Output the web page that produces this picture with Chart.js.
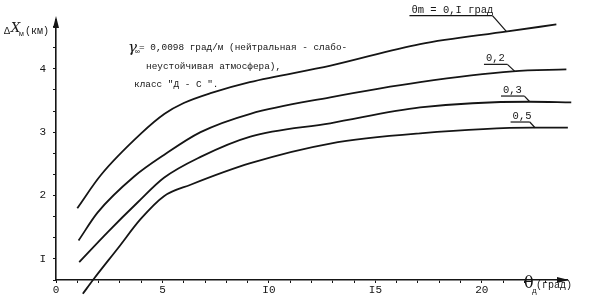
<!DOCTYPE html>
<html>
<head>
<meta charset="utf-8">
<script src="https://cdn.jsdelivr.net/npm/chart.js@4"></script>
<style>
  html, body { margin: 0; padding: 0; background: #fff; }
  #wrap { width: 600px; height: 300px; }
</style>
</head>
<body>
<div id="wrap"><canvas id="rangeChart"></canvas></div>
<script>
// curves: ΔX (км) against θд (град), one per θm
const x01 = [1.0, 2.1, 4.0, 5.1, 6.0, 7.3, 9.1, 12.9, 17.1, 21.2, 23.5];
const y01 = [1.80, 2.32, 2.98, 3.29, 3.46, 3.62, 3.79, 4.05, 4.39, 4.59, 4.70];
const x02 = [1.06, 1.95, 3.67, 5.07, 6.79, 9.13, 12.88, 17.1, 21.45, 23.97];
const y02 = [1.29, 1.73, 2.30, 2.64, 3.00, 3.29, 3.55, 3.79, 3.96, 3.99];
const x03 = [1.09, 2.42, 3.83, 5.07, 6.79, 9.13, 12.88, 17.1, 22.25, 24.2];
const y03 = [0.95, 1.42, 1.89, 2.28, 2.61, 2.93, 3.14, 3.39, 3.48, 3.47];
const x05 = [1.26, 1.79, 2.89, 3.98, 5.07, 6.32, 9.13, 12.88, 17.1, 22.39, 24.04];
const y05 = [0.45, 0.69, 1.16, 1.63, 1.99, 2.17, 2.51, 2.82, 2.98, 3.07, 3.07];
const curveNames = ['0,I', '0,2', '0,3', '0,5'];

// tick labels (typewriter "I" for one)
const xTickValues = [0, 5, 10, 15, 20];
const xTickLabels = ['0', '5', 'I0', 'I5', '20'];
const yTickValues = [1, 2, 3, 4];
const yTickLabels = ['I', '2', '3', '4'];

const MONO = '"Liberation Mono", "DejaVu Sans Mono", monospace';
const INK = '#151515';

function pts(xs, ys) {
    return xs.map((x, i) => ({ x: x, y: ys[i] }));
}

const curveData = [pts(x01, y01), pts(x02, y02), pts(x03, y03), pts(x05, y05)];

// little helpers for the typed notes
function underlined(ctx, text, x0, x1, y) {
    ctx.fillText(text, x0 + 2, y - 3);
    ctx.beginPath();
    ctx.moveTo(x0, y);
    ctx.lineTo(x1, y);
    ctx.stroke();
}

const notesPlugin = {
    id: 'notes',
    afterDraw(chart) {
        const ctx = chart.ctx;
        const xs = chart.scales.x, ys = chart.scales.y;
        const X = v => xs.getPixelForValue(v), Y = v => ys.getPixelForValue(v);
        ctx.save();
        ctx.fillStyle = INK;
        ctx.strokeStyle = INK;
        ctx.lineWidth = 1.2;

        // arrows on axes
        const left = chart.chartArea.left, top = chart.chartArea.top;
        const right = chart.chartArea.right, bottom = chart.chartArea.bottom;
        ctx.beginPath();
        ctx.moveTo(left, top - 4);
        ctx.lineTo(left - 3, top + 8);
        ctx.lineTo(left + 3, top + 8);
        ctx.closePath();
        ctx.fill();
        ctx.beginPath();
        ctx.moveTo(right + 2, bottom);
        ctx.lineTo(right - 10, bottom - 3);
        ctx.lineTo(right - 10, bottom + 3);
        ctx.closePath();
        ctx.fill();

        // axis titles
        ctx.textBaseline = 'alphabetic';
        ctx.textAlign = 'left';
        ctx.font = '10px ' + MONO;
        ctx.fillText('Δ', 4, 34);
        ctx.font = 'italic 13px "DejaVu Serif", serif';
        ctx.fillText('X', 11, 32);
        ctx.font = '8px ' + MONO;
        ctx.fillText('м', 19, 36);
        ctx.font = '10px ' + MONO;
        ctx.fillText('(км)', 25, 34);

        ctx.font = '16px "DejaVu Serif", serif';
        ctx.fillText('θ', 524, 288);
        ctx.font = '8px ' + MONO;
        ctx.fillText('д', 532, 293);
        ctx.font = '10px ' + MONO;
        ctx.fillText('(град)', 536, 288);

        // description block
        ctx.font = 'italic 15px "DejaVu Serif", serif';
        ctx.fillText('γ', 128, 52);
        ctx.font = '8px ' + MONO;
        ctx.fillText('∞', 135, 54);
        ctx.font = '9.4px ' + MONO;
        ctx.fillText('= 0,0098 град/м (нейтральная - слабо-', 139, 50);
        ctx.fillText('неустойчивая атмосфера),', 146, 69);
        ctx.fillText('класс "Д - С ".', 134, 87);

        // curve labels with leaders
        ctx.font = '10.5px ' + MONO;
        ctx.lineWidth = 1.2;
        const marks = [
            { t: 'θm = ' + curveNames[0] + ' град', a: 16.6, b: 20.5, y: 4.84, ex: 21.15, ey: 4.59 },
            { t: curveNames[1], a: 20.1, b: 21.2, y: 4.07, ex: 21.55, ey: 3.96 },
            { t: curveNames[2], a: 20.9, b: 22.0, y: 3.57, ex: 22.25, ey: 3.48 },
            { t: curveNames[3], a: 21.35, b: 22.25, y: 3.16, ex: 22.5, ey: 3.07 }
        ];
        marks.forEach(m => {
            const yy = Y(m.y);
            underlined(ctx, m.t, X(m.a), X(m.b), yy);
            ctx.beginPath();
            ctx.moveTo(X(m.b), yy);
            ctx.lineTo(X(m.ex), Y(m.ey));
            ctx.stroke();
        });
        ctx.restore();
    }
};

const yTicksAll = [];
for (let k = 2; k <= 14; k++) yTicksAll.push(k / 3);

const ctx = document.getElementById('rangeChart').getContext('2d');
new Chart(ctx, {
    type: 'scatter',
    data: {
        datasets: curveData.map((d, i) => ({
            label: curveNames[i],
            data: d,
            showLine: true,
            borderColor: INK,
            borderWidth: 1.8,
            pointRadius: 0,
            cubicInterpolationMode: 'monotone',
            clip: false
        }))
    },
    options: {
        responsive: true,
        maintainAspectRatio: false,
        animation: false,
        layout: { padding: { top: 20, right: 33, left: 0, bottom: 0 } },
        plugins: { legend: { display: false }, tooltip: { enabled: false } },
        scales: {
            x: {
                type: 'linear',
                min: 0,
                max: 24,
                afterBuildTicks: axis => {
                    axis.ticks = [];
                    for (let v = 0; v <= 23; v++) axis.ticks.push({ value: v });
                },
                afterFit: axis => { axis.height = 20; },
                border: { display: true, color: INK, width: 1.6 },
                grid: { drawOnChartArea: false, drawTicks: true, tickLength: 3, color: INK },
                ticks: {
                    autoSkip: false,
                    maxRotation: 0,
                    padding: 0,
                    color: INK,
                    font: { family: MONO, size: 11 },
                    callback: v => {
                        const i = xTickValues.indexOf(v);
                        return i >= 0 ? xTickLabels[i] : '';
                    }
                }
            },
            y: {
                type: 'linear',
                min: 2 / 3,
                max: 4.77,
                afterBuildTicks: axis => {
                    axis.ticks = yTicksAll.map(v => ({ value: v }));
                },
                afterFit: axis => { axis.width = 56; },
                border: { display: true, color: INK, width: 1.6 },
                grid: { drawOnChartArea: false, drawTicks: true, tickLength: 3, color: INK },
                ticks: {
                    autoSkip: false,
                    padding: 7,
                    color: INK,
                    font: { family: MONO, size: 11 },
                    callback: v => {
                        const i = yTickValues.findIndex(t => Math.abs(t - v) < 1e-6);
                        return i >= 0 ? yTickLabels[i] : '';
                    }
                }
            }
        }
    },
    plugins: [notesPlugin]
});
</script>
</body>
</html>
